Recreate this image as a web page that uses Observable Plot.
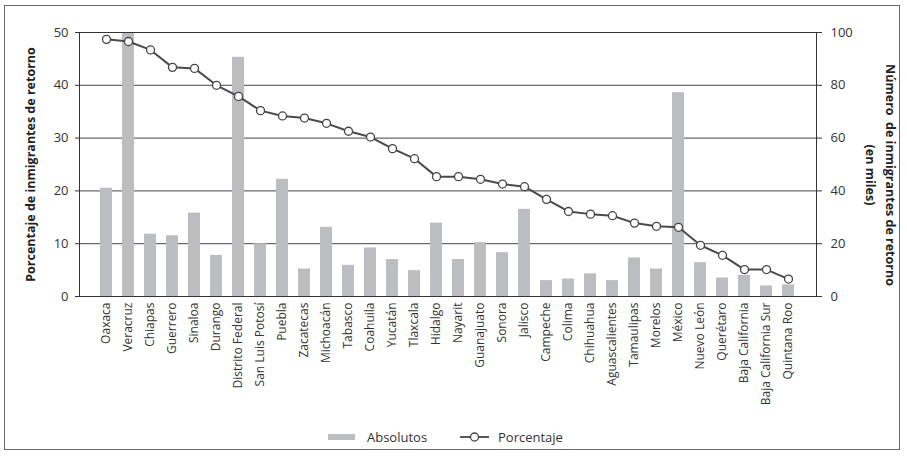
<!DOCTYPE html>
<html>
<head>
<meta charset="utf-8">
<script src="https://cdn.jsdelivr.net/npm/d3@7"></script>
<script src="https://cdn.jsdelivr.net/npm/@observablehq/plot@0.6"></script>
<style>
  body { margin: 0; background: #fff; font-family: "Open Sans", sans-serif; }
  #frame { position: absolute; left: 4px; top: 5px; width: 896px; height: 445px; border: 1.5px solid #6b6b6b; box-sizing: border-box; }
  #chart { position: absolute; left: 0; top: 0; }
  #legend { position: absolute; left: 0; top: 424px; width: 907px; height: 26px; font-size: 13px; color: #333; }
  .lg { position: absolute; top: 4px; display: flex; align-items: center; }
</style>
</head>
<body>
<div id="frame"></div>
<div id="chart"></div>
<div id="legend">
  <div class="lg" style="left:328px"><svg width="28" height="10"><rect x="0" y="2" width="27" height="6" fill="#bcbdc0"/></svg><span style="margin-left:11px">Absolutos</span></div>
  <div class="lg" style="left:460px"><svg width="30" height="12"><line x1="0" y1="6" x2="29" y2="6" stroke="#444" stroke-width="1.8"/><circle cx="14.5" cy="6" r="4" fill="#fff" stroke="#444" stroke-width="1.3"/></svg><span style="margin-left:8px">Porcentaje</span></div>
</div>
<script>
const estados = ["Oaxaca","Veracruz","Chiapas","Guerrero","Sinaloa","Durango","Distrito Federal","San Luis Potosí","Puebla","Zacatecas","Michoacán","Tabasco","Coahuila","Yucatán","Tlaxcala","Hidalgo","Nayarit","Guanajuato","Sonora","Jalisco","Campeche","Colima","Chihuahua","Aguascalientes","Tamaulipas","Morelos","México","Nuevo León","Querétaro","Baja California","Baja California Sur","Quintana Roo"];
// Absolutos (miles) - right axis
const absolutos = [41.0, 99.8, 23.6, 23.0, 31.6, 15.6, 90.6, 20.0, 44.4, 10.4, 26.2, 11.8, 18.4, 14.0, 9.8, 27.8, 14.0, 20.4, 16.6, 33.0, 6.0, 6.6, 8.6, 6.0, 14.6, 10.4, 77.2, 12.8, 7.0, 8.0, 4.0, 4.4];
// Porcentaje - left axis
const porcentaje = [48.7, 48.3, 46.7, 43.4, 43.2, 40.0, 37.9, 35.2, 34.2, 33.8, 32.8, 31.3, 30.2, 28.0, 26.1, 22.7, 22.7, 22.2, 21.3, 20.8, 18.4, 16.1, 15.6, 15.3, 13.9, 13.3, 13.1, 9.7, 7.8, 5.1, 5.1, 3.3];
const leftTicks = [0, 10, 20, 30, 40, 50];
const rightTicks = [0, 20, 40, 60, 80, 100];

const data = estados.map((e, i) => ({estado: e, abs: absolutos[i], pct: porcentaje[i]}));
const ratio = 50 / 100;

const chart = Plot.plot({
  width: 907,
  height: 420,
  marginLeft: 79,
  marginRight: 91,
  marginTop: 32,
  marginBottom: 124,
  style: {fontFamily: "Open Sans, sans-serif", fontSize: "12px", color: "#333", background: "transparent"},
  x: {domain: estados, padding: 0.45, label: null},
  y: {domain: [0, 50], label: null},
  marks: [
    Plot.ruleY(leftTicks, {stroke: "#444", strokeWidth: 1}),
    Plot.barY(data, {x: "estado", y: d => d.abs * ratio, fill: "#bcbdc0"}),
    Plot.frame({stroke: "#333", strokeWidth: 1}),
    Plot.line(data, {x: "estado", y: "pct", stroke: "#4a4a4a", strokeWidth: 2}),
    Plot.dot(data, {x: "estado", y: "pct", r: 4, fill: "#fff", stroke: "#444", strokeWidth: 1.3}),
    Plot.axisY({ticks: leftTicks, tickSize: 4, tickPadding: 7, fontSize: 13, label: "Porcentaje de inmigrantes de retorno", labelAnchor: "center", labelOffset: 53, labelArrow: "none"}),
    Plot.axisY({anchor: "right", ticks: rightTicks.map(t => t * ratio), tickFormat: d => String(Math.round(d / ratio)), tickSize: 5, tickPadding: 9, fontSize: 13, label: null}),
    Plot.axisX({tickRotate: -90, tickSize: 0, tickPadding: 6, fontSize: 12, label: null})
  ]
});
document.getElementById("chart").appendChild(chart);

// Right axis title (two lines, rotated)
const svg = d3.select(chart);
const rt = svg.append("g").attr("transform", "translate(880,175) rotate(90)")
  .attr("font-family", "Open Sans, sans-serif").attr("font-weight", "bold").attr("font-size", 12.5).attr("fill", "#222").attr("text-anchor", "middle");
rt.append("text").attr("y", -6).text("Número  de inmigrantes de retorno").attr("xml:space", "preserve");
rt.append("text").attr("y", 14).text("(en miles)");
svg.selectAll("[aria-label='y-axis label'] text, g[aria-label='y-axis label']").attr("font-weight", "bold").attr("fill", "#222").attr("font-size", 12.5);
</script>
</body>
</html>
